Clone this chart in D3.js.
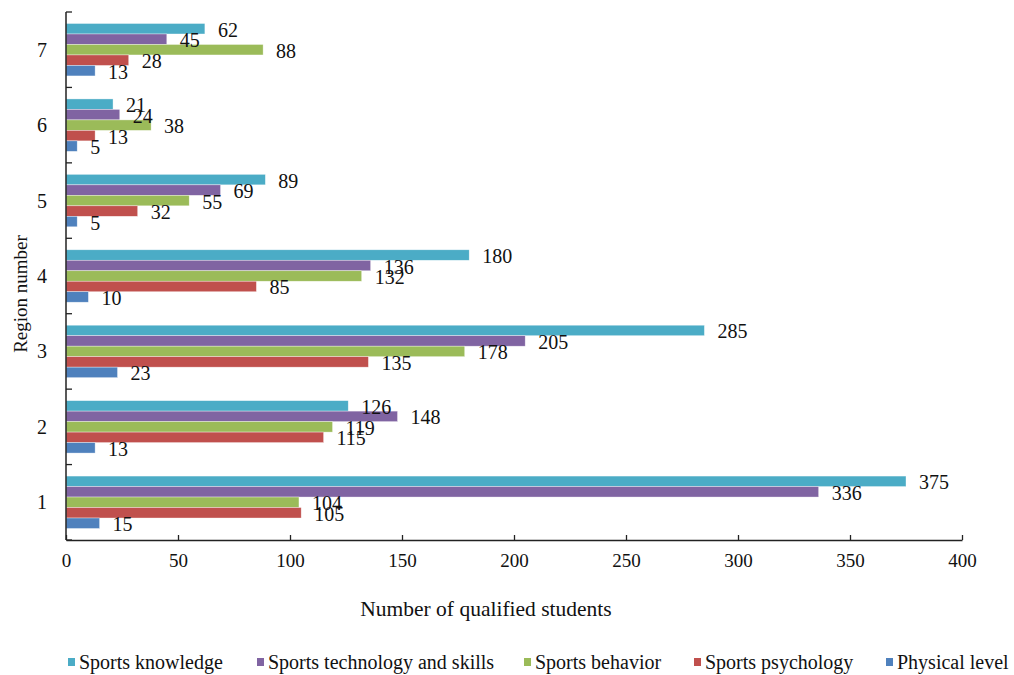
<!DOCTYPE html>
<html>
<head>
<meta charset="utf-8">
<script src="https://cdn.jsdelivr.net/npm/d3@7/dist/d3.min.js"></script>
<style>
  html, body { margin: 0; padding: 0; background: #fff; }
</style>
</head>
<body>
<svg id="chart" width="1014" height="675"></svg>
<script>
// Regions (bottom to top) and the five assessment dimensions
const regions = ["1", "2", "3", "4", "5", "6", "7"];
const seriesNames = ["Sports knowledge", "Sports technology and skills", "Sports behavior", "Sports psychology", "Physical level"];
const seriesColors = ["#4BACC6", "#8064A2", "#9BBB59", "#C0504D", "#4F81BD"];

// Number of qualified students per region, one array per dimension
const sportsKnowledge = [375, 126, 285, 180, 89, 21, 62];
const sportsTechSkills = [336, 148, 205, 136, 69, 24, 45];
const sportsBehavior = [104, 119, 178, 132, 55, 38, 88];
const sportsPsychology = [105, 115, 135, 85, 32, 13, 28];
const physicalLevel = [15, 13, 23, 10, 5, 5, 13];
const xTicks = [0, 50, 100, 150, 200, 250, 300, 350, 400];

const seriesValues = [sportsKnowledge, sportsTechSkills, sportsBehavior, sportsPsychology, physicalLevel];

const FONT = "'Liberation Serif', 'Times New Roman', 'DejaVu Serif', serif";

const svg = d3.select("#chart")
  .attr("font-family", FONT)
  .style("font-family", FONT);
const plot = { left: 66, right: 962, top: 12, bottom: 540 };

const x = d3.scaleLinear().domain([0, 400]).range([plot.left, plot.right]);
const y = d3.scaleBand().domain(regions).range([plot.bottom, plot.top]).padding(0);
const inner = d3.scaleBand().domain(seriesNames)
  .range([11.5, y.bandwidth() - 11.5]).padding(0);

// Bars
const groups = svg.append("g").selectAll("g")
  .data(regions)
  .join("g")
  .attr("transform", d => `translate(0,${y(d)})`);

groups.selectAll("rect")
  .data((r, i) => seriesNames.map((s, k) => ({ s, k, v: seriesValues[k][i] })))
  .join("rect")
  .attr("x", x(0))
  .attr("y", d => inner(d.s))
  .attr("width", d => x(d.v) - x(0))
  .attr("height", inner.bandwidth())
  .attr("fill", d => seriesColors[d.k])
  .attr("stroke", "rgba(255,255,255,0.6)")
  .attr("stroke-width", 0.6);

// Value labels
groups.selectAll("text")
  .data((r, i) => seriesNames.map((s, k) => ({ s, k, v: seriesValues[k][i] })))
  .join("text")
  .attr("x", d => x(d.v) + 13)
  .attr("y", d => inner(d.s) + inner.bandwidth() / 2 + 1)
  .attr("dy", "0.35em")
  .style("font-family", FONT)
  .attr("font-size", 20)
  .attr("fill", "#111")
  .text(d => d.v);

// X axis
const xAxis = svg.append("g")
  .attr("transform", `translate(0,${plot.bottom})`)
  .call(d3.axisBottom(x).tickValues(xTicks).tickSize(-5).tickSizeOuter(0).tickPadding(14));
xAxis.select(".domain").attr("stroke", "#222").attr("stroke-width", 1.5);
xAxis.selectAll(".tick line").attr("stroke", "#222").attr("stroke-width", 1.3);
xAxis.selectAll(".tick text")
  .style("font-family", FONT)
  .attr("font-size", 19)
  .attr("fill", "#111");

// Y axis: ticks at band boundaries, labels at band centres
const yAxis = svg.append("g").attr("transform", `translate(${plot.left},0)`);
yAxis.append("line")
  .attr("x1", 0).attr("x2", 0)
  .attr("y1", plot.top).attr("y2", plot.bottom)
  .attr("stroke", "#222").attr("stroke-width", 1.5);
const boundaries = regions.map(r => y(r)).concat([plot.bottom]);
yAxis.selectAll("line.tick")
  .data(boundaries)
  .join("line")
  .attr("class", "tick")
  .attr("x1", 0).attr("x2", 6)
  .attr("y1", d => d).attr("y2", d => d)
  .attr("stroke", "#222").attr("stroke-width", 1.3);
yAxis.selectAll("text")
  .data(regions)
  .join("text")
  .attr("x", -24)
  .attr("y", d => y(d) + y.bandwidth() / 2)
  .attr("dy", "0.35em")
  .attr("text-anchor", "middle")
  .style("font-family", FONT)
  .attr("font-size", 20)
  .attr("fill", "#111")
  .text(d => d);

// Axis titles
svg.append("text")
  .attr("x", 486).attr("y", 608)
  .attr("dy", "0.35em")
  .attr("text-anchor", "middle")
  .style("font-family", FONT)
  .attr("font-size", 21.5)
  .attr("fill", "#111")
  .text("Number of qualified students");

svg.append("text")
  .attr("transform", "translate(20,294) rotate(-90)")
  .attr("dy", "0.35em")
  .attr("text-anchor", "middle")
  .style("font-family", FONT)
  .attr("font-size", 19)
  .attr("fill", "#111")
  .text("Region number");

// Legend
const legendX = [68, 257, 524, 694, 886];
const legend = svg.append("g").selectAll("g")
  .data(seriesNames)
  .join("g")
  .attr("transform", (d, i) => `translate(${legendX[i]},662)`);
legend.append("rect")
  .attr("x", 0).attr("y", -4).attr("width", 7).attr("height", 8)
  .attr("fill", (d, i) => seriesColors[i]);
legend.append("text")
  .attr("x", 11).attr("y", 0)
  .attr("dy", "0.35em")
  .style("font-family", FONT)
  .attr("font-size", 20)
  .attr("fill", "#111")
  .text(d => d);
</script>
</body>
</html>
